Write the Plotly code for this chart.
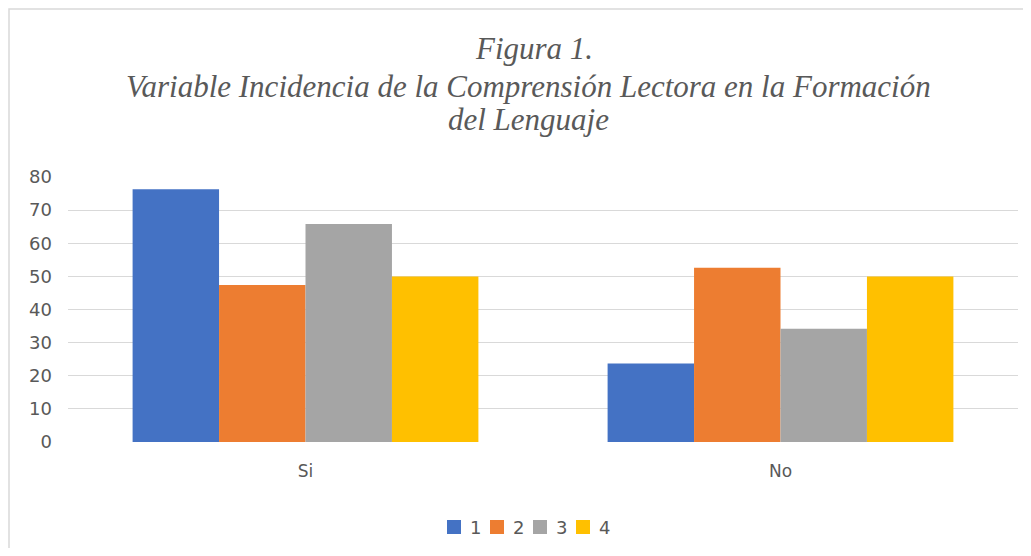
import plotly.graph_objects as go

categories = ["Si", "No"]
series_names = ["1", "2", "3", "4"]
values_1 = [76.3, 23.7]
values_2 = [47.4, 52.6]
values_3 = [65.8, 34.2]
values_4 = [50.0, 50.0]
colors = ["#4472C4", "#ED7D31", "#A5A5A5", "#FFC000"]
y_ticks = [0, 10, 20, 30, 40, 50, 60, 70, 80]

title_lines = [
    "Figura 1.",
    "Variable Incidencia de la Comprensión Lectora en la Formación",
    "del Lenguaje",
]

fig = go.Figure()
for name, vals, col in zip(series_names, [values_1, values_2, values_3, values_4], colors):
    fig.add_trace(go.Bar(x=categories, y=vals, name=name, showlegend=False,
                         marker=dict(color=col, line=dict(width=0))))

# page body has an 8px margin; figure coords = reference pixel - 8
OFF = 8
W, H = 1015, 540
L, T = 68 - OFF, 177 - OFF
PR, PB = 1018 - OFF, 442 - OFF
R, B = W - PR, H - PB
pw, ph = PR - L, PB - T

def px_x(x):
    return (x - OFF - L) / pw

def px_y(y):
    return (PB - (y - OFF)) / ph

annotations = []
title_pos = [(534, 48), (528, 86), (528, 119)]
for line, (cx, cy) in zip(title_lines, title_pos):
    annotations.append(dict(
        text=line, xref="paper", yref="paper", x=px_x(cx), y=px_y(cy),
        xanchor="center", yanchor="middle", showarrow=False,
        font=dict(family="Liberation Serif", size=31, color="#595959", style="italic"),
    ))

shapes = [
    dict(type="rect", xref="paper", yref="paper",
         x0=px_x(9), x1=px_x(1080), y0=px_y(620), y1=px_y(9),
         line=dict(color="#D9D9D9", width=1.5), fillcolor="rgba(0,0,0,0)", layer="below"),
]

# custom legend (square swatches + labels)
leg_x0, leg_pitch, leg_y = 447, 43, 527
for i, (name, col) in enumerate(zip(series_names, colors)):
    sx = leg_x0 + i * leg_pitch
    shapes.append(dict(type="rect", xref="paper", yref="paper",
                       x0=px_x(sx), x1=px_x(sx + 14), y0=px_y(leg_y + 7), y1=px_y(leg_y - 7),
                       line=dict(width=0), fillcolor=col))
    annotations.append(dict(text=name, xref="paper", yref="paper",
                            x=px_x(sx + 21), y=px_y(leg_y), xanchor="left", yanchor="middle",
                            showarrow=False, font=dict(family="DejaVu Sans", size=18, color="#595959")))

fig.update_layout(
    width=W, height=H,
    margin=dict(l=L, r=R, t=T, b=B, autoexpand=False),
    paper_bgcolor="white", plot_bgcolor="white",
    barmode="group", bargap=0.272, bargroupgap=0,
    font=dict(family="DejaVu Sans", size=18, color="#595959"),
    xaxis=dict(showgrid=False, showline=False, ticks="", zeroline=False,
               tickfont=dict(size=17, color="#595959"), ticklabelstandoff=17),
    yaxis=dict(range=[0, 80], tickvals=y_ticks, showgrid=True, gridcolor="#D9D9D9",
               gridwidth=1, zeroline=False, showline=False, ticks="",
               tickfont=dict(size=18, color="#595959"), ticklabelstandoff=15),
    showlegend=False,
    shapes=shapes,
    annotations=annotations,
)

fig.write_html("out.html")
